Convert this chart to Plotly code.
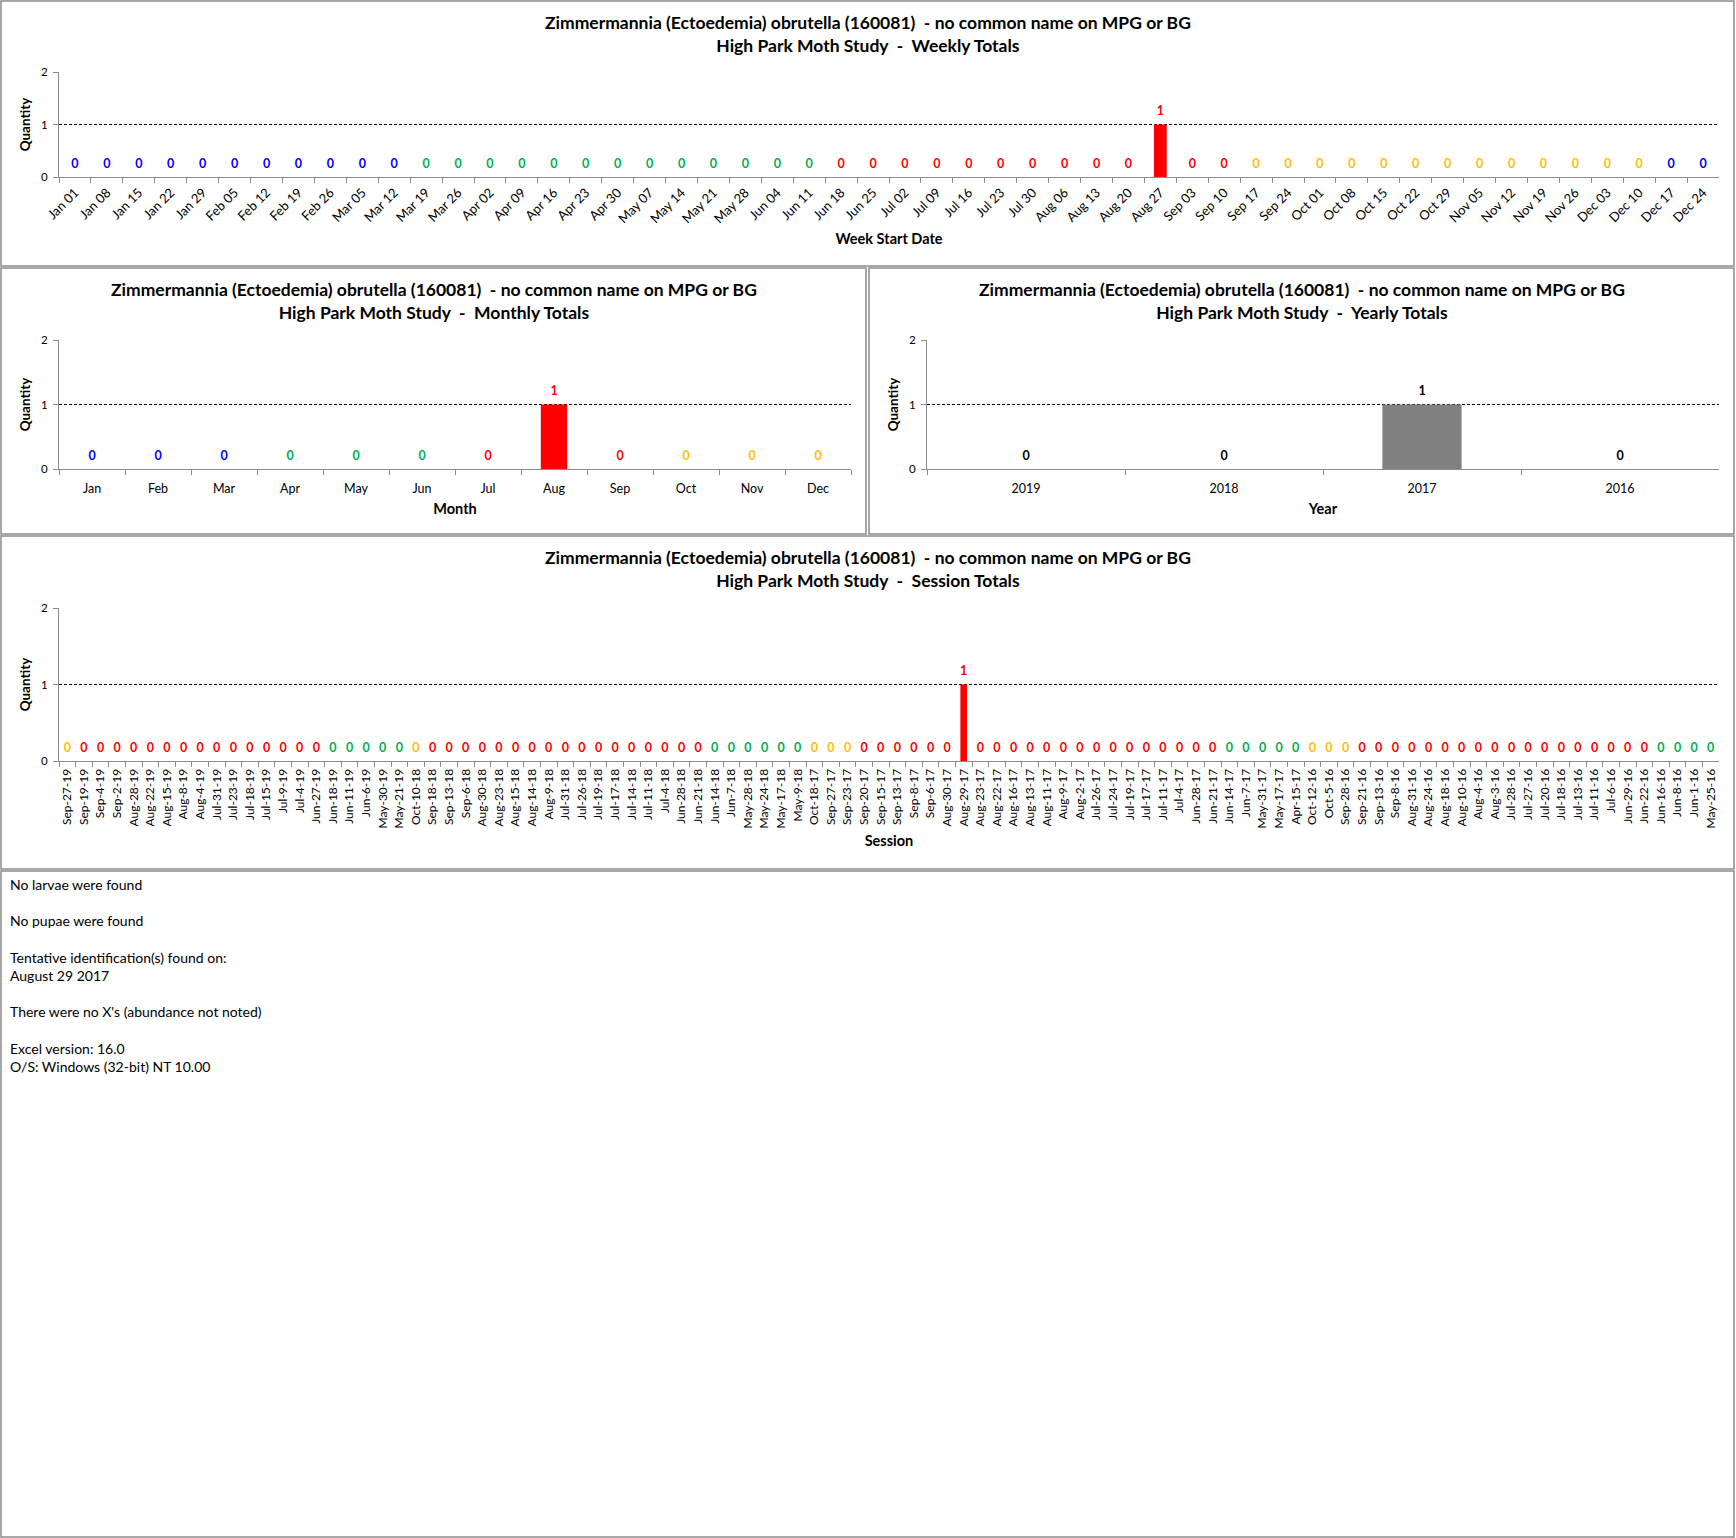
import datetime
import plotly.graph_objects as go

W, H = 1736, 1538

TITLE1 = "Zimmermannia (Ectoedemia) obrutella (160081)  - no common name on MPG or BG"

# weekly totals
week_labels = [
    "Jan 01", "Jan 08", "Jan 15", "Jan 22", "Jan 29", "Feb 05", "Feb 12", "Feb 19", "Feb 26",
    "Mar 05", "Mar 12", "Mar 19", "Mar 26", "Apr 02", "Apr 09", "Apr 16", "Apr 23", "Apr 30",
    "May 07", "May 14", "May 21", "May 28", "Jun 04", "Jun 11", "Jun 18", "Jun 25", "Jul 02",
    "Jul 09", "Jul 16", "Jul 23", "Jul 30", "Aug 06", "Aug 13", "Aug 20", "Aug 27", "Sep 03",
    "Sep 10", "Sep 17", "Sep 24", "Oct 01", "Oct 08", "Oct 15", "Oct 22", "Oct 29", "Nov 05",
    "Nov 12", "Nov 19", "Nov 26", "Dec 03", "Dec 10", "Dec 17", "Dec 24",
]
week_values = [
    0, 0, 0, 0, 0, 0, 0, 0, 0, 0, 0, 0, 0, 0, 0, 0, 0, 0, 0, 0, 0, 0, 0, 0, 0, 0,
    0, 0, 0, 0, 0, 0, 0, 0, 1, 0, 0, 0, 0, 0, 0, 0, 0, 0, 0, 0, 0, 0, 0, 0, 0, 0,
]

# monthly totals
month_labels = ["Jan", "Feb", "Mar", "Apr", "May", "Jun", "Jul", "Aug", "Sep", "Oct", "Nov", "Dec"]
month_values = [0, 0, 0, 0, 0, 0, 0, 1, 0, 0, 0, 0]

# yearly totals
year_labels = ["2019", "2018", "2017", "2016"]
year_values = [0, 0, 1, 0]

# session totals
session_labels = [
    "Sep-27-19", "Sep-19-19", "Sep-4-19", "Sep-2-19", "Aug-28-19", "Aug-22-19", "Aug-15-19",
    "Aug-8-19", "Aug-4-19", "Jul-31-19", "Jul-23-19", "Jul-18-19", "Jul-15-19", "Jul-9-19",
    "Jul-4-19", "Jun-27-19", "Jun-18-19", "Jun-11-19", "Jun-6-19", "May-30-19", "May-21-19",
    "Oct-10-18", "Sep-18-18", "Sep-13-18", "Sep-6-18", "Aug-30-18", "Aug-23-18", "Aug-15-18",
    "Aug-14-18", "Aug-9-18", "Jul-31-18", "Jul-26-18", "Jul-19-18", "Jul-17-18", "Jul-14-18",
    "Jul-11-18", "Jul-4-18", "Jun-28-18", "Jun-21-18", "Jun-14-18", "Jun-7-18", "May-28-18",
    "May-24-18", "May-17-18", "May-9-18",
    "Oct-18-17", "Sep-27-17", "Sep-23-17", "Sep-20-17", "Sep-15-17", "Sep-13-17", "Sep-8-17",
    "Sep-6-17", "Aug-30-17", "Aug-29-17", "Aug-23-17", "Aug-22-17", "Aug-16-17", "Aug-13-17",
    "Aug-11-17", "Aug-9-17", "Aug-2-17", "Jul-26-17", "Jul-24-17", "Jul-19-17", "Jul-17-17",
    "Jul-11-17", "Jul-4-17", "Jun-28-17", "Jun-21-17", "Jun-14-17", "Jun-7-17", "May-31-17",
    "May-17-17", "Apr-15-17",
    "Oct-12-16", "Oct-5-16", "Sep-28-16", "Sep-21-16", "Sep-13-16", "Sep-8-16", "Aug-31-16",
    "Aug-24-16", "Aug-18-16", "Aug-10-16", "Aug-4-16", "Aug-3-16", "Jul-28-16", "Jul-27-16",
    "Jul-20-16", "Jul-18-16", "Jul-13-16", "Jul-11-16", "Jul-6-16", "Jun-29-16", "Jun-22-16",
    "Jun-16-16", "Jun-8-16", "Jun-1-16", "May-25-16",
]
session_values = [
    0, 0, 0, 0, 0, 0, 0, 0, 0, 0, 0, 0, 0, 0, 0, 0, 0, 0, 0, 0, 0, 0, 0, 0, 0,
    0, 0, 0, 0, 0, 0, 0, 0, 0, 0, 0, 0, 0, 0, 0, 0, 0, 0, 0, 0, 0, 0, 0, 0, 0,
    0, 0, 0, 0, 1, 0, 0, 0, 0, 0, 0, 0, 0, 0, 0, 0, 0, 0, 0, 0, 0, 0, 0, 0, 0,
    0, 0, 0, 0, 0, 0, 0, 0, 0, 0, 0, 0, 0, 0, 0, 0, 0, 0, 0, 0, 0, 0, 0, 0, 0,
]

notes = [
    "No larvae were found",
    "",
    "No pupae were found",
    "",
    "Tentative identification(s) found on:",
    "August 29 2017",
    "",
    "There were no X's (abundance not noted)",
    "",
    "Excel version: 16.0",
    "O/S: Windows (32-bit) NT 10.00",
]

BLUE, GREEN, RED, GOLD = "#0000FF", "#00B050", "#FF0000", "#FFC000"
FONT = "Lato, 'Open Sans', sans-serif"
BORDER = "#8C8C8C"


def season_colour(d):
    # winter / spring / summer / fall split at the solstices and equinoxes
    md = (d.month, d.day)
    if md >= (12, 21) or md < (3, 20):
        return BLUE
    if md < (6, 21):
        return GREEN
    if md < (9, 22):
        return RED
    return GOLD


week_colours = [
    season_colour(datetime.datetime.strptime(w + " 2018", "%b %d %Y") + datetime.timedelta(days=6))
    for w in week_labels
]
month_colours = [[BLUE, GREEN, RED, GOLD][i // 3] for i in range(12)]
year_colours = ["#000000"] * len(year_labels)
session_colours = [season_colour(datetime.datetime.strptime(s, "%b-%d-%y")) for s in session_labels]


def fx(x):
    return x / W


def fy(y):
    return 1 - y / H


fig = go.Figure()

panels = [
    # key, labels, values, colours, bar colour, plot px box, panel box, subtitle, axis title,
    # tick angle, tick size, tick label standoff
    ("", week_labels, week_values, week_colours, None, (59, 72, 1719, 177),
     (1, 1, 1734, 266), "Weekly Totals", "Week Start Date", -45, 13, 2),
    ("2", month_labels, month_values, month_colours, None, (59, 340, 851, 469),
     (1, 268, 866, 534), "Monthly Totals", "Month", 0, 12.5, 8),
    ("3", year_labels, year_values, year_colours, "#808080", (927, 340, 1719, 469),
     (869, 268, 1734, 534), "Yearly Totals", "Year", 0, 12.5, 8),
    ("4", session_labels, session_values, session_colours, None, (59, 608, 1719, 761),
     (1, 536, 1734, 869), "Session Totals", "Session", -90, 12, 2),
]

layout_axes = {}
for key, labels, values, colours, barcol, plot, box, sub, xtitle, angle, tsize, tstand in panels:
    xa, ya = "x" + key, "y" + key
    x0, y0, x1, y1 = plot
    fig.add_trace(go.Bar(
        x=labels, y=values, xaxis=xa, yaxis=ya,
        marker=dict(color=barcol if barcol else colours, line=dict(width=0)),
        width=0.4, hoverinfo="x+y", showlegend=False,
    ))
    # data labels above each bar (transparent marker gives the gap)
    fig.add_trace(go.Scatter(
        x=labels, y=values, xaxis=xa, yaxis=ya, mode="markers+text",
        marker=dict(size=8, color="rgba(0,0,0,0)"),
        text=["<b>%d</b>" % v for v in values], textposition="top center",
        textfont=dict(family=FONT, size=12.5, color=colours),
        hoverinfo="skip", showlegend=False, cliponaxis=False,
    ))
    layout_axes["xaxis" + key] = dict(
        domain=[fx(x0), fx(x1)], anchor=ya, type="category", automargin=False,
        range=[-0.5, len(labels) - 0.5],
        showline=True, linecolor=BORDER, linewidth=1,
        ticks="outside", tickson="boundaries", ticklen=5, tickcolor=BORDER,
        tickangle=angle, tickfont=dict(family=FONT, size=tsize, color="#000000"),
        ticklabelstandoff=tstand,
        showgrid=False,
        title=dict(text="<b>%s</b>" % xtitle, font=dict(family=FONT, size=14.5, color="#000000"),
                   standoff=8),
        fixedrange=True,
    )
    layout_axes["yaxis" + key] = dict(
        domain=[fy(y1), fy(y0)], anchor=xa, range=[0, 2], tickvals=[0, 1, 2], automargin=False,
        showline=True, linecolor=BORDER, linewidth=1,
        ticks="outside", ticklen=5, tickcolor=BORDER,
        tickfont=dict(family=FONT, size=11.5, color="#000000"),
        ticklabelstandoff=3,
        showgrid=True, gridcolor="#000000", gridwidth=1, griddash="3px,2px",
        zeroline=False,
        title=dict(text="<b>Quantity</b>", font=dict(family=FONT, size=13.5, color="#000000"),
                   standoff=7),
        fixedrange=True,
    )
    bx0, by0, bx1, by1 = box
    fig.add_shape(type="rect", xref="paper", yref="paper",
                  x0=fx(bx0), x1=fx(bx1), y0=fy(by1), y1=fy(by0),
                  line=dict(color=BORDER, width=1.5), layer="below")
    fig.add_annotation(
        xref="paper", yref="paper", x=fx((bx0 + bx1) / 2), y=fy(by0 + 9),
        xanchor="center", yanchor="top", showarrow=False,
        text="<b>%s</b><br><b>High Park Moth Study  -  %s</b>" % (TITLE1, sub),
        font=dict(family=FONT, size=17.5, color="#000000"),
    )

# notes area
fig.add_shape(type="rect", xref="paper", yref="paper",
              x0=fx(1), x1=fx(1734), y0=fy(1537), y1=fy(871),
              line=dict(color=BORDER, width=1.5), layer="below")
fig.add_annotation(
    xref="paper", yref="paper", x=fx(8), y=fy(874), xanchor="left", yanchor="top",
    align="left", showarrow=False, text="<br>".join(notes),
    font=dict(family=FONT, size=14, color="#000000"),
)

fig.update_layout(
    width=W, height=H,
    margin=dict(l=0, r=0, t=0, b=0, autoexpand=False),
    paper_bgcolor="white", plot_bgcolor="white",
    bargap=0.6, font=dict(family=FONT),
    **layout_axes,
)

fig.write_html(
    "out.html",
    config={"displayModeBar": False},
    post_script=(
        "document.documentElement.style.margin='0';"
        "document.documentElement.style.overflow='hidden';"
        "document.body.style.margin='0';"
        "document.body.style.overflow='hidden';"
    ),
)
